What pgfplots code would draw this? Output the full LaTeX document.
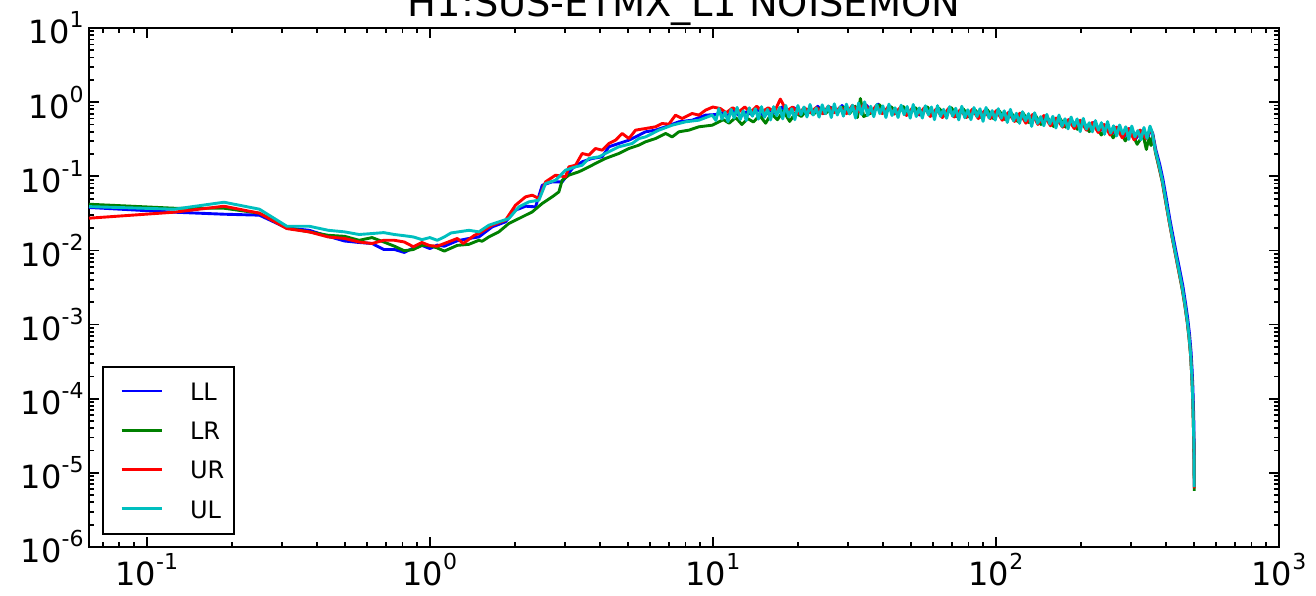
\documentclass[border=0pt]{standalone}
\usepackage{fontspec}
\setmainfont{DejaVu Sans}
\usepackage{pgfplots}
\pgfplotsset{compat=1.18}
\definecolor{mblue}{rgb}{0,0,1}
\definecolor{mgreen}{rgb}{0,0.5,0}
\definecolor{mred}{rgb}{1,0,0}
\definecolor{mcyan}{rgb}{0,0.75,0.75}
\newcommand{\tl}[1]{\mbox{\fontsize{16}{16}\selectfont 10\raisebox{8pt}{\fontsize{11}{11}\selectfont #1}}}
\begin{document}
\begin{tikzpicture}
\begin{axis}[
  at={(0pt,0pt)}, anchor=south west,
  scale only axis, width=595pt, height=259.5pt,
  xmode=log, ymode=log,
  xmin=0.0625, xmax=1000, ymin=1e-6, ymax=10,
  axis line style={line width=1.25pt},
  tick align=inside, tick pos=both,
  major tick length=5pt, minor tick length=2.5pt,
  every tick/.style={black, line width=0.9pt},
  xtick={0.1,1,10,100,1000},
  xticklabels={\tl{-1},\tl{0},\tl{1},\tl{2},\tl{3}},
  minor xtick={0.07,0.08,0.09,0.2,0.3,0.4,0.5,0.6,0.7,0.8,0.9,2,3,4,5,6,7,8,9,20,30,40,50,60,70,80,90,200,300,400,500,600,700,800,900},
  ytick={1e-6,1e-5,1e-4,1e-3,1e-2,1e-1,1,10},
  yticklabels={\tl{-6},\tl{-5},\tl{-4},\tl{-3},\tl{-2},\tl{-1},\tl{0},\tl{1}},
  minor ytick={2e-6,3e-6,4e-6,5e-6,6e-6,7e-6,8e-6,9e-6,2e-5,3e-5,4e-5,5e-5,6e-5,7e-5,8e-5,9e-5,2e-4,3e-4,4e-4,5e-4,6e-4,7e-4,8e-4,9e-4,2e-3,3e-3,4e-3,5e-3,6e-3,7e-3,8e-3,9e-3,0.02,0.03,0.04,0.05,0.06,0.07,0.08,0.09,0.2,0.3,0.4,0.5,0.6,0.7,0.8,0.9,2,3,4,5,6,7,8,9},
  xticklabel style={inner sep=0pt, anchor=north, yshift=-3pt},
  yticklabel style={inner sep=0pt, anchor=east, xshift=-2.5pt},
  title={H1:SUS-ETMX\_L1 NOISEMON},
  title style={font=\fontsize{19.2}{19.2}\selectfont, at={(0.5,1)}, anchor=base, yshift=0pt, inner sep=0pt},
  legend cell align=left,
  legend image code/.code={\path (0pt,0pt); \draw[#1, line width=1.45pt] (3.6pt,0.25pt) -- (23.6pt,0.25pt);},
  legend style={at={(axis description cs:0.0109,0.0231)}, anchor=south west,
    draw=black, line width=1.25pt, fill=white, inner xsep=4.9pt, inner ysep=7.8pt,
    font=\fontsize{12}{12}\selectfont, row sep=10.85pt,
    nodes={inner sep=0pt, text height=8.8pt, text depth=0pt},
    /tikz/every odd column/.append style={column sep=13.5pt}},
  every axis plot/.append style={line width=1.45pt, line join=round, no markers},
]
\addplot[mblue] coordinates {
(0.0625,0.038) (0.125,0.0328) (0.1875,0.0308) (0.25,0.0299) (0.3125,0.0201) (0.375,0.0187) (0.4375,0.0155) (0.5,0.0134) (0.5625,0.0128) (0.625,0.0124) (0.6875,0.0103) (0.75,0.0103) (0.8125,0.0094) (0.875,0.0108) (0.9375,0.0117) (1.0,0.0106) (1.0625,0.0118) (1.125,0.0114) (1.25,0.0135) (1.375,0.0145) (1.49,0.0152) (1.661,0.0208) (1.851,0.0243) (2.007,0.0349) (2.178,0.0395) (2.363,0.0387) (2.495,0.0758) (2.706,0.0841) (2.935,0.0841) (3.184,0.127) (3.454,0.157) (3.746,0.174) (4.064,0.183) (4.29,0.25) (4.654,0.277) (5.05,0.307) (5.331,0.34) (5.781,0.398) (6.272,0.419) (6.804,0.465) (7.583,0.543) (8.451,0.571) (9.421,0.668) (10.2,0.68)
(10.76,0.72) (11.28,0.66) (11.89,0.76) (12.51,0.63) (13.12,0.74) (13.74,0.68) (14.45,0.80) (15.17,0.64) (15.89,0.78) (16.71,0.70) (17.53,0.86) (18.45,0.68) (19.37,0.84) (20.3,0.66) (21.32,0.80) (22.35,0.72) (23.47,0.88) (24.7,0.70) (25.93,0.86) (27.16,0.74) (28.6,0.90) (30.03,0.72) (31.47,0.88) (33.11,0.78) (34.75,0.92) (36.49,0.76) (38.34,0.94) (40.18,0.73) (42.23,0.88) (44.28,0.71) (46.54,0.86) (48.89,0.70) (51.25,0.84) (53.81,0.67) (56.58,0.85) (59.35,0.68) (62.32,0.80) (65.5,0.67) (68.78,0.83) (72.16,0.64) (75.75,0.81) (79.54,0.65) (83.54,0.78) (87.74,0.63) (92.15,0.80) (96.76,0.62) (101.6,0.74) (106.6,0.60) (111.7,0.74) (117.9,0.57) (123,0.71) (129.2,0.55) (136.3,0.66) (142.5,0.53) (149.7,0.65) (157.9,0.51) (165,0.60) (174.3,0.47) (182.5,0.59) (191.7,0.45) (200.9,0.55) (211.2,0.42) (221.4,0.53) (232.7,0.41) (244,0.49) (256.3,0.37) (269.6,0.46) (282.9,0.34) (297.3,0.44) (311.6,0.32) (327,0.41) (343.4,0.33) (352,0.42) (358,0.38)
(367,0.23) (379,0.145) (389,0.092) (400,0.05) (411,0.027) (422,0.0158) (433,0.0095) (445,0.0057) (457,0.0034) (467,0.002) (476,0.0012) (483,0.00074) (489,0.00043) (493,0.00025) (496,0.00015) (498,0.000092) (500,0.000052) (501,0.00003) (501.6,0.000018) (502,0.0000065)
};
\addlegendentry{LL}
\addplot[mgreen] coordinates {
(0.0625,0.042) (0.125,0.0371) (0.1875,0.0371) (0.25,0.0318) (0.3125,0.0201) (0.375,0.0178) (0.4375,0.016) (0.5,0.0155) (0.5625,0.0137) (0.625,0.0149) (0.6875,0.013) (0.75,0.0114) (0.8125,0.0099) (0.875,0.0103) (0.9375,0.0117) (1.0,0.0116) (1.0625,0.0108) (1.125,0.0098) (1.25,0.0117) (1.375,0.0121) (1.49,0.0137) (1.53,0.0133) (1.616,0.0152) (1.753,0.0178) (1.902,0.0231) (2.063,0.0269) (2.30,0.0331) (2.495,0.043) (2.706,0.0528) (2.857,0.0616) (2.935,0.0886) (3.099,0.1035) (3.361,0.115) (3.549,0.127) (3.849,0.149) (4.175,0.174) (4.654,0.203) (5.05,0.237) (5.477,0.263) (5.781,0.292) (6.272,0.323) (6.804,0.378) (7.183,0.34) (7.583,0.398) (8.225,0.419) (8.922,0.465) (9.945,0.489)
(10.89,0.58) (11.41,0.52) (12.04,0.62) (12.66,0.50) (13.28,0.60) (13.9,0.54) (14.63,0.66) (15.36,0.52) (16.08,0.70) (16.91,0.58) (17.74,0.76) (18.68,0.55) (19.61,0.72) (20.54,0.64) (21.58,0.80) (22.62,0.68) (23.76,0.82) (25.0,0.70) (26.25,0.84) (27.49,0.72) (28.95,0.86) (30.4,0.70) (31.85,0.88) (32.4,0.62) (33.2,1.12) (34.1,0.64) (36.94,0.74) (38.8,0.92) (40.67,0.72) (42.75,0.86) (44.82,0.70) (47.1,0.87) (49.49,0.68) (51.88,0.84) (54.47,0.70) (57.27,0.86) (60.07,0.66) (63.08,0.82) (66.3,0.65) (69.62,0.84) (73.04,0.64) (76.67,0.81) (80.51,0.63) (84.56,0.78) (88.81,0.62) (93.27,0.79) (97.94,0.60) (102.8,0.76) (107.9,0.58) (113.1,0.72) (119.3,0.55) (124.5,0.72) (130.7,0.53) (138,0.66) (144.2,0.50) (151.5,0.63) (159.8,0.47) (167,0.63) (176.4,0.46) (184.7,0.57) (194,0.43) (203.4,0.55) (213.7,0.40) (224.1,0.52) (235.5,0.36) (246.9,0.48) (259.4,0.33) (272.9,0.44) (286.4,0.30) (300.9,0.40) (315.4,0.27) (331,0.36) (340,0.23) (347,0.33) (353,0.26) (358,0.36)
(366,0.21) (377,0.13) (387,0.084) (398,0.045) (409,0.025) (420,0.0145) (431,0.0087) (443,0.0051) (455,0.003) (465,0.0018) (474,0.00108) (481,0.00066) (487,0.00039) (491,0.00023) (494,0.00014) (496,0.000086) (498,0.000049) (500,0.000026) (501,0.000016) (501.5,0.00001) (502,0.0000057)
};
\addlegendentry{LR}
\addplot[mred] coordinates {
(0.0625,0.0272) (0.125,0.0328) (0.1875,0.0395) (0.25,0.0318) (0.3125,0.0197) (0.375,0.0178) (0.4375,0.0152) (0.5,0.0145) (0.5625,0.013) (0.625,0.0124) (0.6875,0.0137) (0.75,0.0137) (0.8125,0.013) (0.875,0.0112) (0.9375,0.0128) (1.0,0.0116) (1.0625,0.0114) (1.125,0.0124) (1.25,0.0145) (1.3125,0.0124) (1.4375,0.016) (1.49,0.0169) (1.661,0.0219) (1.851,0.0256) (2.007,0.0407) (2.178,0.0528) (2.30,0.0556) (2.43,0.050) (2.563,0.0841) (2.781,0.1035) (3.016,0.0983) (3.099,0.134) (3.271,0.141) (3.454,0.203) (3.646,0.193) (3.849,0.237) (4.064,0.225) (4.29,0.277) (4.53,0.307) (4.782,0.378) (5.05,0.323) (5.331,0.419) (5.781,0.441) (6.272,0.465) (6.622,0.515) (6.991,0.505) (7.38,0.668) (7.791,0.602) (8.451,0.703) (8.922,0.668) (9.421,0.78) (10.0,0.86)
(10.63,0.82) (11.14,0.72) (11.75,0.84) (12.35,0.74) (12.96,0.86) (13.57,0.73) (14.28,0.88) (14.99,0.75) (15.69,0.84) (16.5,0.74) (17.31,1.10) (18.23,0.76) (19.14,0.86) (20.05,0.70) (21.06,0.84) (22.07,0.72) (23.19,0.85) (24.4,0.70) (25.62,0.88) (26.83,0.72) (28.25,0.86) (29.67,0.70) (31.08,0.90) (32.7,0.74) (34.32,0.96) (36.05,0.72) (37.87,0.90) (39.69,0.70) (41.72,0.87) (43.74,0.69) (45.97,0.85) (48.3,0.66) (50.63,0.83) (53.16,0.68) (55.89,0.84) (58.62,0.64) (61.56,0.81) (64.7,0.62) (67.94,0.82) (71.28,0.63) (74.82,0.79) (78.57,0.62) (82.52,0.80) (86.67,0.60) (91.02,0.76) (95.58,0.60) (100.3,0.77) (105.3,0.57) (110.4,0.72) (116.4,0.55) (121.5,0.71) (127.6,0.52) (134.7,0.68) (140.7,0.50) (147.8,0.66) (155.9,0.48) (163,0.61) (172.1,0.46) (180.2,0.58) (189.3,0.44) (198.5,0.57) (208.6,0.42) (218.7,0.53) (229.8,0.39) (241,0.50) (253.1,0.36) (266.3,0.46) (279.5,0.33) (293.6,0.44) (307.8,0.31) (323,0.42) (339.2,0.32) (352,0.43) (357,0.38)
(366,0.22) (377,0.135) (387,0.086) (398,0.046) (409,0.025) (420,0.0145) (431,0.0088) (443,0.0052) (455,0.0031) (465,0.00185) (474,0.0011) (481,0.00068) (487,0.0004) (491,0.00023) (494,0.00014) (496,0.000088) (498,0.00005) (500,0.000027) (501,0.000017) (501.5,0.000011) (502,0.0000062)
};
\addlegendentry{UR}
\addplot[mcyan] coordinates {
(0.0625,0.039) (0.125,0.036) (0.1875,0.0447) (0.25,0.036) (0.3125,0.0212) (0.375,0.0212) (0.4375,0.0187) (0.5,0.0178) (0.5625,0.0164) (0.625,0.0169) (0.6875,0.0174) (0.75,0.0164) (0.8125,0.0158) (0.875,0.0152) (0.9375,0.014) (1.0,0.0149) (1.0625,0.0137) (1.125,0.0152) (1.1875,0.0172) (1.375,0.0187) (1.49,0.0178) (1.616,0.0219) (1.753,0.0243) (1.902,0.0269) (2.063,0.0387) (2.238,0.0452) (2.428,0.0476) (2.563,0.0798) (2.781,0.0886) (3.016,0.121) (3.271,0.134) (3.454,0.141) (3.646,0.174) (3.955,0.183) (4.29,0.214) (4.654,0.25) (5.188,0.277) (5.477,0.323) (5.781,0.34) (6.446,0.419) (7.183,0.489) (8.005,0.543) (8.922,0.571) (9.945,0.668)
(10.25,0.566) (10.5,0.82) (10.77,0.59) (11.04,0.735) (11.31,0.545) (11.6,0.80) (11.89,0.61) (12.18,0.85) (12.49,0.583) (12.8,0.765) (13.12,0.566) (13.45,0.84) (13.79,0.645) (14.13,0.815) (14.48,0.59) (14.85,0.87) (15.22,0.625) (15.6,0.80) (15.99,0.576) (16.39,0.87) (16.8,0.656) (17.22,0.85) (17.65,0.595) (18.09,0.905) (18.54,0.632) (19.0,0.814) (19.48,0.58) (19.97,0.90) (20.47,0.676) (20.98,0.86) (21.5,0.63) (22.04,0.93) (22.59,0.67) (23.16,0.83) (23.73,0.628) (24.33,0.92) (24.94,0.70) (25.56,0.89) (26.2,0.62) (26.85,0.95) (27.52,0.67) (28.21,0.87) (28.92,0.647) (29.64,0.94) (30.38,0.694) (31.14,0.91) (31.92,0.61) (32.72,0.975) (33.54,0.68) (34.37,1.01) (35.23,0.66) (36.11,0.88) (37.02,0.636) (37.94,0.93) (38.89,0.70) (39.86,0.89) (40.86,0.62) (41.88,0.94) (42.93,0.66) (44.0,0.84) (45.1,0.62) (46.23,0.91) (47.38,0.676) (48.57,0.874) (49.78,0.608) (51.03,0.93) (52.3,0.64) (53.61,0.836) (54.95,0.61) (56.32,0.894) (57.73,0.674) (59.17,0.86) (60.65,0.58) (62.17,0.897) (63.72,0.643) (65.32,0.80) (66.95,0.606) (68.62,0.87) (70.34,0.645) (72.1,0.828) (73.9,0.576) (75.75,0.88) (77.64,0.615) (79.58,0.79) (81.57,0.58) (83.61,0.846) (85.7,0.638) (87.84,0.815) (90.04,0.55) (92.29,0.848) (94.6,0.608) (96.97,0.77) (99.39,0.573) (101.9,0.816) (104.4,0.605) (107.0,0.765) (109.7,0.532) (112.5,0.80) (115.3,0.56) (118.1,0.708) (121.1,0.518) (124.1,0.744) (127.2,0.561) (130.4,0.70) (133.7,0.471) (137.0,0.72) (140.4,0.516) (144.0,0.638) (147.6,0.48) (151.3,0.684) (155.0,0.507) (158.9,0.644) (162.9,0.448) (167.0,0.67) (171.1,0.469) (175.4,0.597) (179.8,0.436) (184.3,0.63) (188.9,0.475) (193.6,0.594) (198.5,0.40) (203.5,0.604) (208.5,0.433) (213.7,0.528) (219.1,0.398) (224.6,0.564) (230.2,0.418) (235.9,0.529) (241.8,0.368) (247.9,0.547) (254.1,0.383) (260.4,0.48) (266.9,0.35) (273.6,0.492) (280.5,0.371) (287.5,0.466) (294.7,0.314) (302.0,0.476) (309.6,0.341) (317.3,0.413) (325.2,0.311) (333.4,0.455) (341.7,0.324) (350.2,0.475) (356,0.40)
(366,0.22) (377,0.14) (387,0.089) (398,0.048) (409,0.026) (420,0.015) (431,0.0091) (443,0.0054) (455,0.0032) (465,0.0019) (474,0.00114) (481,0.0007) (487,0.00041) (491,0.00024) (494,0.000144) (496,0.00009) (498,0.000051) (500,0.000028) (501,0.000018) (501.5,0.000011) (502,0.0000064)
};
\addlegendentry{UL}
\end{axis}
\pgfresetboundingbox
\useasboundingbox (-44.5pt,-24pt) rectangle (613.5pt,273.5pt);
\end{tikzpicture}
\end{document}
